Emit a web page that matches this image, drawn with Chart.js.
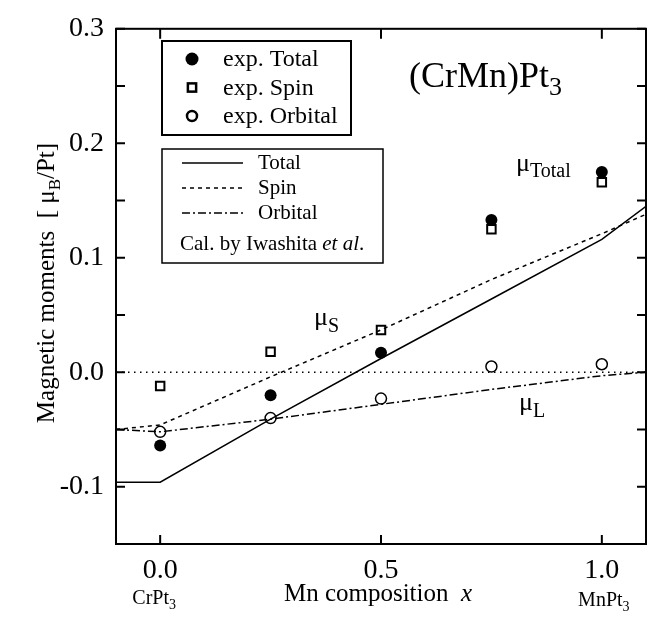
<!DOCTYPE html>
<html>
<head>
<meta charset="utf-8">
<script src="https://cdn.jsdelivr.net/npm/chart.js@4.4.0/dist/chart.umd.min.js"></script>
<style>
  html, body { margin: 0; padding: 0; background: #fff; }
  #wrap { width: 655px; height: 628px; }
</style>
</head>
<body>
<div id="wrap"><canvas id="chart" width="655" height="628"></canvas></div>
<script>
// experimental points
const expX = [0, 0.25, 0.5, 0.75, 1.0];
const expTotal = [-0.064, -0.020, 0.017, 0.133, 0.175];
const expSpin = [-0.012, 0.018, 0.037, 0.125, 0.166];
const expOrbital = [-0.052, -0.040, -0.023, 0.005, 0.007];

// calculation (Iwashita et al.)
const calX = [-0.1, 0, 0.25, 0.5, 0.75, 1.0, 1.1];
const calTotal = [-0.096, -0.096, -0.041, 0.012, 0.064, 0.116, 0.145];
const calSpin = [-0.050, -0.046, -0.004, 0.037, 0.081, 0.121, 0.138];
const calOrbital = [-0.050, -0.052, -0.041, -0.028, -0.015, -0.003, 0.000];

// zero reference line
const zeroX = [-0.1, 1.1];
const zeroY = [0, 0];

const xTicks = [0, 0.5, 1.0];
const yTicks = [-0.1, 0, 0.1, 0.2, 0.3];
const yMinorTicks = [-0.15, -0.1, -0.05, 0, 0.05, 0.1, 0.15, 0.2, 0.25, 0.3];

const SERIF = '"Liberation Serif", "Times New Roman", serif';

function pts(xs, ys) {
    return xs.map((x, i) => ({ x: x, y: ys[i] }));
}

// draw text made of pieces (normal / subscript / italic)
function drawRich(ctx, parts, x, y, align) {
    let total = 0;
    parts.forEach(p => {
        ctx.font = (p.italic ? 'italic ' : '') + p.size + 'px ' + SERIF;
        p.w = ctx.measureText(p.t).width;
        total += p.w;
    });
    let cx = align === 'center' ? x - total / 2 : x;
    ctx.textAlign = 'left';
    ctx.textBaseline = 'alphabetic';
    parts.forEach(p => {
        ctx.font = (p.italic ? 'italic ' : '') + p.size + 'px ' + SERIF;
        ctx.fillText(p.t, cx, y + (p.dy || 0));
        cx += p.w;
    });
}

function marker(ctx, style, x, y, r) {
    ctx.save();
    ctx.strokeStyle = '#000';
    ctx.fillStyle = '#000';
    ctx.setLineDash([]);
    if (style === 'filled') {
        ctx.beginPath();
        ctx.arc(x, y, r, 0, Math.PI * 2);
        ctx.fill();
    } else if (style === 'square') {
        ctx.lineWidth = 2.5;
        ctx.strokeRect(x - r * 0.75, y - r * 0.75, r * 1.5, r * 1.5);
    } else {
        ctx.lineWidth = 2.5;
        ctx.beginPath();
        ctx.arc(x, y, r, 0, Math.PI * 2);
        ctx.stroke();
    }
    ctx.restore();
}

// frame with inward ticks on all four sides
const framePlugin = {
    id: 'frame',
    afterDraw(chart) {
        const ctx = chart.ctx;
        const a = chart.chartArea;
        const xs = chart.scales.x, ys = chart.scales.y;
        ctx.save();
        ctx.strokeStyle = '#000';
        ctx.lineWidth = 2;
        ctx.strokeRect(a.left, a.top, a.right - a.left, a.bottom - a.top);
        ctx.beginPath();
        yMinorTicks.forEach(v => {
            const py = ys.getPixelForValue(v);
            ctx.moveTo(a.left, py); ctx.lineTo(a.left + 9, py);
            ctx.moveTo(a.right, py); ctx.lineTo(a.right - 9, py);
        });
        xTicks.forEach(v => {
            const px = xs.getPixelForValue(v);
            ctx.moveTo(px, a.bottom); ctx.lineTo(px, a.bottom - 9);
            ctx.moveTo(px, a.top); ctx.lineTo(px, a.top + 10);
        });
        ctx.stroke();
        ctx.restore();
    }
};

// legends, title, annotations, axis titles
const textPlugin = {
    id: 'texts',
    afterDraw(chart) {
        const ctx = chart.ctx;
        const xs = chart.scales.x;
        ctx.save();
        ctx.fillStyle = '#000';
        ctx.strokeStyle = '#000';

        // legend box 1 (experiment)
        ctx.fillStyle = '#fff';
        ctx.fillRect(162, 41, 189, 94);
        ctx.lineWidth = 2;
        ctx.strokeRect(162, 41, 189, 94);
        ctx.fillStyle = '#000';
        const expLabels = ['exp. Total', 'exp. Spin', 'exp. Orbital'];
        const expStyles = ['filled', 'square', 'open'];
        const expRad = [6.5, 5.5, 5];
        expLabels.forEach((t, i) => {
            const yy = 59 + i * 28.5;
            marker(ctx, expStyles[i], 192, yy, expRad[i]);
            drawRich(ctx, [{ t: t, size: 24 }], 223, yy + 7, 'left');
        });

        // legend box 2 (calculation)
        ctx.fillStyle = '#fff';
        ctx.fillRect(162, 149, 221, 114);
        ctx.lineWidth = 1.5;
        ctx.strokeRect(162, 149, 221, 114);
        ctx.fillStyle = '#000';
        const calLabels = ['Total', 'Spin', 'Orbital'];
        const calDash = [[], [4, 4], [8, 3, 2, 3]];
        calLabels.forEach((t, i) => {
            const yy = 163 + i * 25;
            ctx.save();
            ctx.lineWidth = 1.3;
            ctx.setLineDash(calDash[i]);
            ctx.beginPath();
            ctx.moveTo(182, yy); ctx.lineTo(243, yy);
            ctx.stroke();
            ctx.restore();
            drawRich(ctx, [{ t: t, size: 21 }], 258, yy + 6, 'left');
        });
        drawRich(ctx, [{ t: 'Cal. by Iwashita ', size: 21 }, { t: 'et al', size: 21, italic: true }, { t: '.', size: 21 }], 180, 250, 'left');

        // compound title
        drawRich(ctx, [{ t: '(CrMn)Pt', size: 36 }, { t: '3', size: 26, dy: 8 }], 409, 87, 'left');

        // annotations
        drawRich(ctx, [{ t: '\u03bc', size: 26 }, { t: 'Total', size: 20, dy: 6 }], 516, 171, 'left');
        drawRich(ctx, [{ t: '\u03bc', size: 26 }, { t: 'S', size: 20, dy: 7 }], 314, 325, 'left');
        drawRich(ctx, [{ t: '\u03bc', size: 26 }, { t: 'L', size: 20, dy: 7 }], 519, 410, 'left');

        // x axis title and end-member labels
        drawRich(ctx, [{ t: 'Mn composition  ', size: 25 }, { t: 'x', size: 25, italic: true }], 378, 601, 'center');
        drawRich(ctx, [{ t: 'CrPt', size: 20 }, { t: '3', size: 14, dy: 5 }], xs.getPixelForValue(0) - 6, 604, 'center');
        drawRich(ctx, [{ t: 'MnPt', size: 20 }, { t: '3', size: 14, dy: 5 }], xs.getPixelForValue(1) + 2, 606, 'center');

        // y axis title (rotated)
        ctx.translate(45, 283);
        ctx.rotate(-Math.PI / 2);
        drawRich(ctx, [
            { t: 'Magnetic moments  [ \u03bc', size: 25 },
            { t: 'B', size: 17, dy: 6 },
            { t: '/Pt]', size: 25 }
        ], 0, 9, 'center');
        ctx.restore();
    }
};

const ctx = document.getElementById('chart').getContext('2d');
new Chart(ctx, {
    type: 'scatter',
    data: {
        datasets: [
            {
                label: 'zero',
                data: pts(zeroX, zeroY),
                showLine: true,
                borderColor: '#000',
                borderWidth: 1.3,
                borderDash: [1.5, 4.5],
                pointRadius: 0
            },
            {
                label: 'Total',
                data: pts(calX, calTotal),
                showLine: true,
                borderColor: '#000',
                borderWidth: 1.5,
                pointRadius: 0,
                tension: 0
            },
            {
                label: 'Spin',
                data: pts(calX, calSpin),
                showLine: true,
                borderColor: '#000',
                borderWidth: 1.5,
                borderDash: [4, 4],
                pointRadius: 0
            },
            {
                label: 'Orbital',
                data: pts(calX, calOrbital),
                showLine: true,
                borderColor: '#000',
                borderWidth: 1.5,
                borderDash: [8, 3, 2, 3],
                pointRadius: 0
            },
            {
                label: 'exp. Orbital',
                data: pts(expX, expOrbital),
                pointStyle: 'circle',
                pointRadius: 5.5,
                pointBorderWidth: 1.5,
                pointBorderColor: '#000',
                pointBackgroundColor: '#fff'
            },
            {
                label: 'exp. Spin',
                data: pts(expX, expSpin),
                pointStyle: 'rect',
                pointRadius: 6,
                pointBorderWidth: 2,
                pointBorderColor: '#000',
                pointBackgroundColor: '#fff'
            },
            {
                label: 'exp. Total',
                data: pts(expX, expTotal),
                pointStyle: 'circle',
                pointRadius: 6,
                pointBorderWidth: 0,
                pointBackgroundColor: '#000'
            }
        ]
    },
    options: {
        responsive: false,
        animation: false,
        events: [],
        layout: { padding: { top: 22, right: 9, left: 0, bottom: 0 } },
        plugins: {
            legend: { display: false },
            tooltip: { enabled: false }
        },
        scales: {
            x: {
                type: 'linear',
                min: -0.1,
                max: 1.1,
                afterBuildTicks: s => { s.ticks = xTicks.map(v => ({ value: v })); },
                afterFit: s => { s.height = 84; },
                grid: { display: false, drawTicks: false },
                border: { display: false },
                ticks: {
                    color: '#000',
                    padding: 10,
                    font: { family: SERIF, size: 28 },
                    callback: v => Number(v).toFixed(1)
                }
            },
            y: {
                type: 'linear',
                min: -0.15,
                max: 0.3,
                afterBuildTicks: s => { s.ticks = yTicks.map(v => ({ value: v })); },
                afterFit: s => { s.width = 116; },
                grid: { display: false, drawTicks: false },
                border: { display: false },
                ticks: {
                    color: '#000',
                    padding: 12,
                    font: { family: SERIF, size: 28 },
                    callback: v => Number(v).toFixed(1)
                }
            }
        }
    },
    plugins: [framePlugin, textPlugin]
});
</script>
</body>
</html>
